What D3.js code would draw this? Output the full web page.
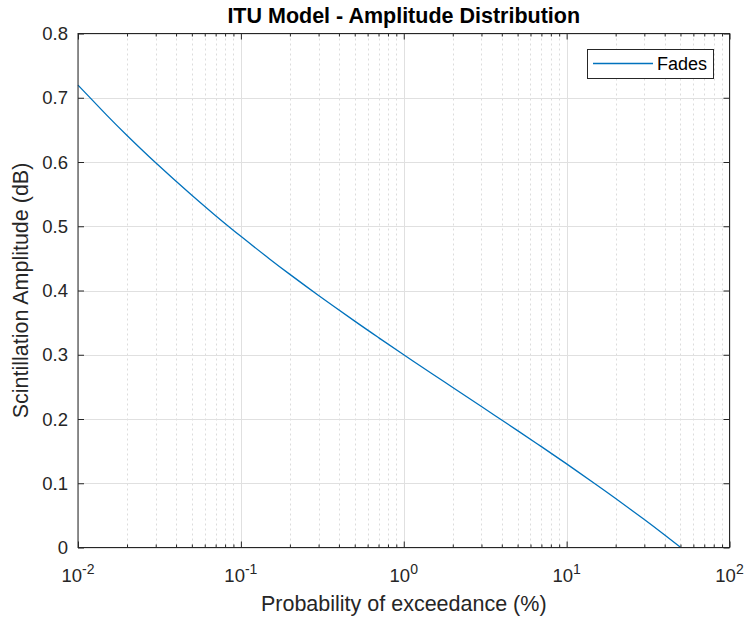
<!DOCTYPE html>
<html><head><meta charset="utf-8">
<script src="https://cdn.jsdelivr.net/npm/d3@7"></script>
<style>
body{margin:0;background:#fff;}
text{font-family:"Liberation Sans",Arial,Helvetica,sans-serif;}
</style></head>
<body><svg id="c" width="747" height="620"></svg>
<script>
const probability = [0.01,0.015,0.02,0.03,0.05,0.07,0.1,0.15,0.2,0.3,0.5,0.7,1,1.5,2,3,5,7,10,15,20,30,40,50];
const fades = [0.7196,0.6729,0.6412,0.5987,0.5481,0.5165,0.4843,0.4492,0.4251,0.3923,0.3523,0.3267,0.3000,0.2701,0.2490,0.2194,0.1819,0.1570,0.1301,0.0989,0.0763,0.0435,0.0194,0.0003];
const xTickExps = [-2,-1,0,1,2];
const yTicks = [0,0.1,0.2,0.3,0.4,0.5,0.6,0.7,0.8];
const seriesName = "Fades";
const titleText = "ITU Model - Amplitude Distribution";
const xLabelText = "Probability of exceedance (%)";
const yLabelText = "Scintillation Amplitude (dB)";

const svg = d3.select("#c");
const L=78, R=729.5, T=33.5, B=547.5;
const axisColor="#262626";
const x = d3.scaleLog().domain([0.01,100]).range([L,R]);
const y = d3.scaleLinear().domain([0,0.8]).range([B,T]);

const minor=[];
for(let e=-2;e<2;e++){for(let m=2;m<=9;m++) minor.push(m*Math.pow(10,e));}
const major = xTickExps.map(e=>Math.pow(10,e));

const g = svg.append("g");
g.selectAll(".mg").data(minor).enter().append("line")
 .attr("x1",d=>Math.round(x(d))+0.5).attr("x2",d=>Math.round(x(d))+0.5).attr("y1",T).attr("y2",B)
 .attr("stroke","#dcdcdc").attr("stroke-width",1).attr("stroke-dasharray","2,3");
g.selectAll(".gx").data(major).enter().append("line")
 .attr("x1",d=>Math.round(x(d))+0.5).attr("x2",d=>Math.round(x(d))+0.5).attr("y1",T).attr("y2",B)
 .attr("stroke","#e0e0e0").attr("stroke-width",1);
g.selectAll(".gy").data(yTicks).enter().append("line")
 .attr("x1",L).attr("x2",R).attr("y1",d=>Math.round(y(d))+0.5).attr("y2",d=>Math.round(y(d))+0.5)
 .attr("stroke","#e0e0e0").attr("stroke-width",1);

const line = d3.line().x(d=>x(d[0])).y(d=>y(d[1])).curve(d3.curveNatural);
const pts = probability.map((p,i)=>[p,fades[i]]);
svg.append("path").datum(pts).attr("d",line).attr("fill","none")
 .attr("stroke","#0072BD").attr("stroke-width",1.3);

const xb = d3.axisBottom(x).tickValues(major).tickSize(-6).tickFormat("");
const xt = d3.axisTop(x).tickValues(major).tickSize(-6).tickFormat("");
const xbm = d3.axisBottom(x).tickValues(minor).tickSize(-3).tickFormat("");
const xtm = d3.axisTop(x).tickValues(minor).tickSize(-3).tickFormat("");
const yl = d3.axisLeft(y).tickValues(yTicks).tickSize(-6).tickFormat("");
const yr = d3.axisRight(y).tickValues(yTicks).tickSize(-6).tickFormat("");
function styl(s){s.selectAll("path").remove();s.selectAll("line").attr("stroke",axisColor);}
svg.append("g").attr("transform",`translate(0,${B})`).call(xb).call(styl);
svg.append("g").attr("transform",`translate(0,${T})`).call(xt).call(styl);
svg.append("g").attr("transform",`translate(0,${B})`).call(xbm).call(styl);
svg.append("g").attr("transform",`translate(0,${T})`).call(xtm).call(styl);
svg.append("g").attr("transform",`translate(${L},0)`).call(yl).call(styl);
svg.append("g").attr("transform",`translate(${R},0)`).call(yr).call(styl);
svg.append("rect").attr("x",L).attr("y",T).attr("width",R-L).attr("height",B-T)
 .attr("fill","none").attr("stroke",axisColor).attr("stroke-width",1);

svg.selectAll(".yl").data(yTicks).enter().append("text")
 .attr("x",L-10).attr("y",d=>y(d)).attr("dy","0.36em").attr("text-anchor","end")
 .attr("font-size",18.5).attr("fill",axisColor).text(d=>d===0?"0":d.toFixed(1));
const xl = svg.selectAll(".xl").data(xTickExps).enter().append("text")
 .attr("x",d=>x(Math.pow(10,d))).attr("y",B+34).attr("text-anchor","middle")
 .attr("font-size",18.5).attr("fill",axisColor);
xl.append("tspan").text("10");
xl.append("tspan").attr("dy",-8).attr("font-size",14).text(d=>d<0?"-"+Math.abs(d):String(d));

svg.append("text").attr("x",(L+R)/2).attr("y",23).attr("text-anchor","middle")
 .attr("font-size",21.5).attr("font-weight","bold").attr("fill","#000").text(titleText);
svg.append("text").attr("x",(L+R)/2).attr("y",611).attr("text-anchor","middle")
 .attr("font-size",21.5).attr("fill",axisColor).text(xLabelText);
svg.append("text").attr("transform",`translate(28,${(T+B)/2}) rotate(-90)`).attr("text-anchor","middle")
 .attr("font-size",21.5).attr("fill",axisColor).text(yLabelText);

const lg = svg.append("g");
lg.append("rect").attr("x",587.5).attr("y",49.5).attr("width",126).attr("height",29)
 .attr("fill","#fff").attr("stroke",axisColor).attr("stroke-width",1);
lg.append("line").attr("x1",593).attr("x2",653).attr("y1",63.5).attr("y2",63.5)
 .attr("stroke","#0072BD").attr("stroke-width",1.3);
lg.append("text").attr("x",657).attr("y",70).attr("font-size",18)
 .attr("fill","#000").text(seriesName);
</script></body></html>
